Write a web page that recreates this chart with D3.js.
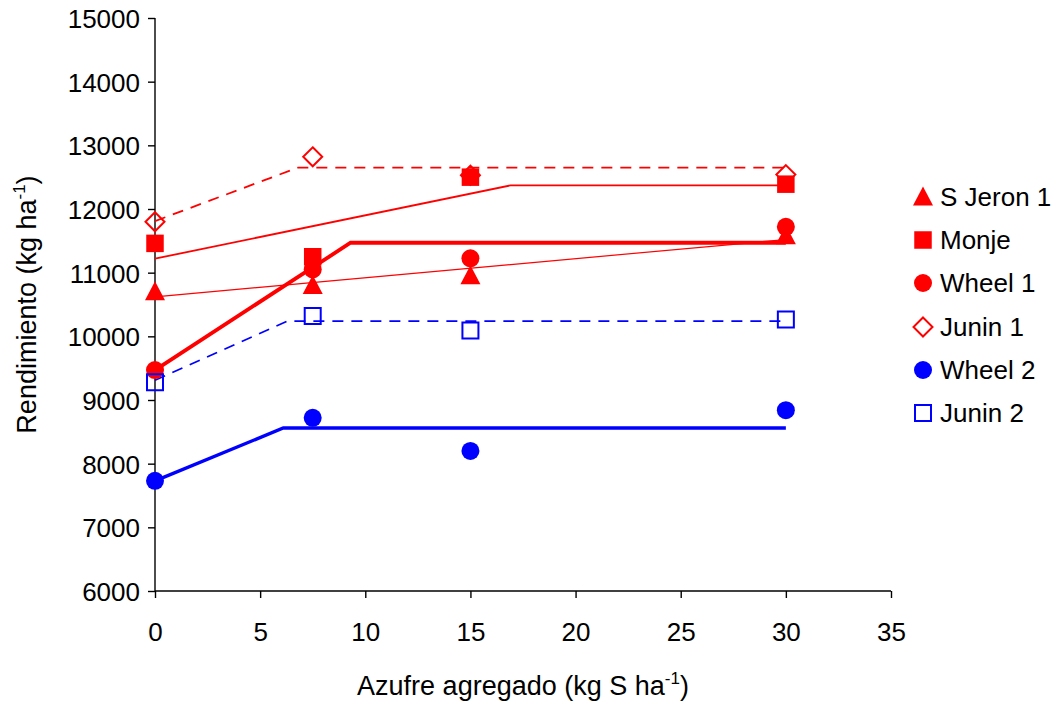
<!DOCTYPE html>
<html>
<head>
<meta charset="utf-8">
<script src="https://cdn.jsdelivr.net/npm/d3@7"></script>
<style>
    body { margin: 0; background: #fff; }
    svg text { font-family: "Liberation Sans", Arial, sans-serif; fill: #000; }
</style>
</head>
<body>
<div id="chart"></div>
<script>
// Doses of added sulphur (kg S/ha)
var doses = [0, 7.5, 15, 30];

// Observed yields per site (kg/ha)
var sJeron1 = [10700, 10800, 10950, 11580];
var monje = [11460, 11250, 12500, 12390];
var wheel1 = [9470, 11050, 11225, 11720];
var junin1 = [11800, 12820, 12530, 12540];
var wheel2 = [7730, 8720, 8200, 8840];
var junin2 = [9280, 10320, 10090, 10265];

// Fitted response lines (break points)
var sJeron1FitX = [0, 30],       sJeron1FitY = [10620, 11520];
var monjeFitX = [0, 16.9, 30],   monjeFitY = [11220, 12370, 12370];
var wheel1FitX = [0, 9.3, 30],   wheel1FitY = [9470, 11470, 11470];
var junin1FitX = [0, 6.8, 30],   junin1FitY = [11810, 12650, 12650];
var wheel2FitX = [0, 6.1, 30],   wheel2FitY = [7730, 8560, 8560];
var junin2FitX = [0, 6.3, 30],   junin2FitY = [9310, 10240, 10240];

var xTicks = [0, 5, 10, 15, 20, 25, 30, 35];
var yTicks = [6000, 7000, 8000, 9000, 10000, 11000, 12000, 13000, 14000, 15000];

var RED = "#ff0000", BLUE = "#0000ff";

var series = [
    {name: "S Jeron 1", values: sJeron1, symbol: "triangle", color: RED, filled: true},
    {name: "Monje", values: monje, symbol: "square", color: RED, filled: true},
    {name: "Wheel 1", values: wheel1, symbol: "circle", color: RED, filled: true},
    {name: "Junin 1", values: junin1, symbol: "diamond", color: RED, filled: false},
    {name: "Wheel 2", values: wheel2, symbol: "circle", color: BLUE, filled: true},
    {name: "Junin 2", values: junin2, symbol: "square", color: BLUE, filled: false}
];

var fits = [
    {x: sJeron1FitX, y: sJeron1FitY, color: RED, width: 1.2, dash: null},
    {x: monjeFitX, y: monjeFitY, color: RED, width: 1.8, dash: null},
    {x: wheel1FitX, y: wheel1FitY, color: RED, width: 3.8, dash: null},
    {x: junin1FitX, y: junin1FitY, color: RED, width: 1.8, dash: "11,8"},
    {x: wheel2FitX, y: wheel2FitY, color: BLUE, width: 3.4, dash: null},
    {x: junin2FitX, y: junin2FitY, color: BLUE, width: 1.8, dash: "11,8"}
];

var width = 1064, height = 706;
var plot = {left: 155, right: 891, top: 18, bottom: 591};

var svg = d3.select("#chart").append("svg")
    .attr("width", width)
    .attr("height", height);

var xScale = d3.scaleLinear().domain([0, 35]).range([plot.left, plot.right]);
var yScale = d3.scaleLinear().domain([6000, 15000]).range([plot.bottom, plot.top]);

var fontSize = 26;
var titleSize = 27;

// axes
var xAxis = d3.axisBottom(xScale).tickValues(xTicks).tickSize(7).tickPadding(25)
    .tickFormat(d3.format("d"));
var yAxis = d3.axisLeft(yScale).tickValues(yTicks).tickSize(7).tickPadding(8)
    .tickFormat(d3.format("d"));

function styleAxis(g) {
    g.select(".domain").attr("stroke", "#000").attr("stroke-width", 1.4);
    g.selectAll(".tick line").attr("stroke", "#000").attr("stroke-width", 1.4);
    g.selectAll(".tick text")
        .attr("font-size", fontSize)
        .attr("font-family", "Liberation Sans, Arial, sans-serif")
        .attr("fill", "#000");
}

svg.append("g")
    .attr("transform", "translate(0," + plot.bottom + ")")
    .call(xAxis)
    .call(function (g) { g.select(".domain").attr("d", "M" + plot.left + ",0H" + plot.right); })
    .call(styleAxis);

svg.append("g")
    .attr("transform", "translate(" + plot.left + ",0)")
    .call(yAxis)
    .call(function (g) { g.select(".domain").attr("d", "M0," + plot.top + "V" + plot.bottom); })
    .call(styleAxis)
    .call(function (g) { g.selectAll(".tick text").attr("dy", "0.36em"); });

// axis titles with superscript
var xTitle = svg.append("text")
    .attr("x", (plot.left + plot.right) / 2)
    .attr("y", 695)
    .attr("text-anchor", "middle")
    .attr("font-size", titleSize);
xTitle.append("tspan").text("Azufre agregado (kg S ha");
xTitle.append("tspan").attr("font-size", 17).attr("dy", -11).text("-1");
xTitle.append("tspan").attr("dy", 11).text(")");

var yTitle = svg.append("text")
    .attr("transform", "translate(36," + (plot.top + plot.bottom) / 2 + ") rotate(-90)")
    .attr("text-anchor", "middle")
    .attr("font-size", titleSize);
yTitle.append("tspan").text("Rendimiento (kg ha");
yTitle.append("tspan").attr("font-size", 17).attr("dy", -11).text("-1");
yTitle.append("tspan").attr("dy", 11).text(")");

// fitted lines
var line = d3.line()
    .x(function (d) { return xScale(d[0]); })
    .y(function (d) { return yScale(d[1]); });

svg.append("g").attr("class", "fits")
    .selectAll("path")
    .data(fits)
    .enter().append("path")
    .attr("d", function (f) { return line(d3.zip(f.x, f.y)); })
    .attr("fill", "none")
    .attr("stroke", function (f) { return f.color; })
    .attr("stroke-width", function (f) { return f.width; })
    .attr("stroke-dasharray", function (f) { return f.dash; });

// marker shapes, sized by pixel
var symbolTypes = {
    square: d3.symbolSquare,
    circle: d3.symbolCircle
};

function markerPath(s) {
    if (s.symbol === "triangle") {
        return "M0,-10.5L10,8.5L-10,8.5Z";
    }
    if (s.symbol === "diamond") {
        return "M0,-9.5L9.5,0L0,9.5L-9.5,0Z";
    }
    var size = s.symbol === "circle" ? Math.PI * 9 * 9 : (s.filled ? 17.5 * 17.5 : 16 * 16);
    return d3.symbol().type(symbolTypes[s.symbol]).size(size)();
}

function drawMarker(g, s) {
    g.append("path")
        .attr("d", markerPath(s))
        .attr("fill", s.filled ? s.color : "none")
        .attr("stroke", s.color)
        .attr("stroke-width", s.filled ? 0 : 2);
}

var markers = svg.append("g").attr("class", "markers");
series.forEach(function (s) {
    s.values.forEach(function (v, i) {
        var g = markers.append("g")
            .attr("transform", "translate(" + xScale(doses[i]) + "," + yScale(v) + ")");
        drawMarker(g, s);
    });
});

// legend
var legendY = [197, 240, 283, 327, 370, 413];
var legend = svg.append("g").attr("class", "legend");
series.forEach(function (s, i) {
    var row = legend.append("g").attr("transform", "translate(923," + legendY[i] + ")");
    drawMarker(row, s);
    row.append("text")
        .attr("x", 17)
        .attr("y", 0)
        .attr("dy", "0.36em")
        .attr("font-size", fontSize)
        .text(s.name);
});
</script>
</body>
</html>
